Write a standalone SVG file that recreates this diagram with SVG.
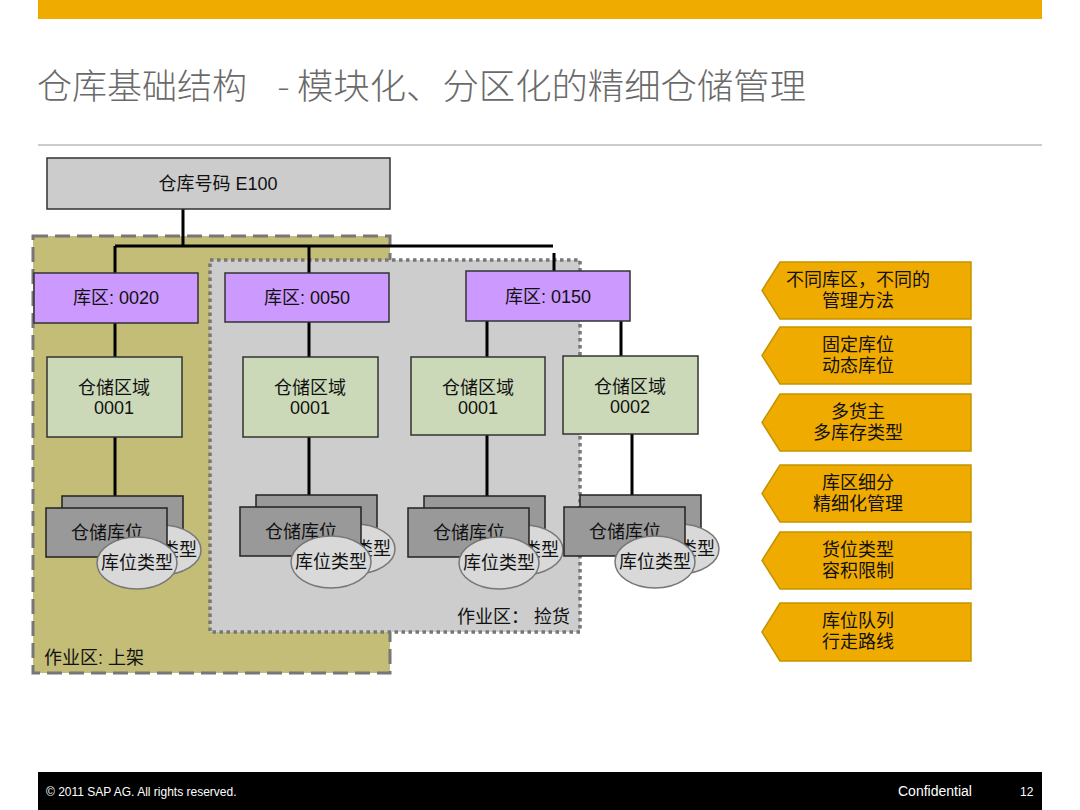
<svg xmlns="http://www.w3.org/2000/svg" width="1080" height="810" viewBox="0 0 1080 810">
<style>
  .t{font-family:"Liberation Sans","Noto Sans CJK SC",sans-serif;font-size:18px;fill:#111;text-anchor:middle}
  .tl{font-family:"Liberation Sans","Noto Sans CJK SC",sans-serif;font-size:18px;fill:#111}
  .title{font-family:"Noto Sans CJK SC","Liberation Sans",sans-serif;font-size:35px;font-weight:300;fill:#6a6a6a}
  .ft{font-family:"Liberation Sans",sans-serif;fill:#fff}
  .kq{fill:#CC99FF;stroke:#333;stroke-width:1.5}
  .qy{fill:#CCD9B9;stroke:#333;stroke-width:1.5}
  .kw{fill:#999999;stroke:#222;stroke-width:1.5}
  .el{fill:#D9D9D9;stroke:#777;stroke-width:1.5}
  .tag{fill:#F0AB00;stroke:#C49400;stroke-width:1.5}
  .con{stroke:#000;stroke-width:3;fill:none}
</style>
<defs>
  <g id="stack">
    <rect class="kw" x="16" y="-12" width="121" height="49"/>
    <ellipse class="el" cx="115" cy="42" rx="40" ry="25"/>
    <text class="t" x="115" y="48">库位类型</text>
    <rect class="kw" x="0" y="0" width="121" height="49"/>
    <text class="t" x="61" y="31">仓储库位</text>
    <ellipse class="el" cx="91" cy="55" rx="40" ry="26"/>
    <text class="t" x="91" y="61">库位类型</text>
  </g>
</defs>
<rect width="1080" height="810" fill="#fff"/>
<rect x="38" y="0" width="1004" height="19" fill="#F0AB00"/>
<g id="title">
  <text class="title" x="37" y="99" textLength="210" lengthAdjust="spacingAndGlyphs">仓库基础结构</text>
  <text class="title" x="278" y="99" textLength="11" lengthAdjust="spacingAndGlyphs">–</text>
  <text class="title" x="297" y="99" textLength="509" lengthAdjust="spacingAndGlyphs">模块化、分区化的精细仓储管理</text>
</g>
<line x1="38" y1="145" x2="1042" y2="145" stroke="#999" stroke-width="1"/>

<g id="zone-putaway">
  <rect x="33" y="236" width="357" height="437" fill="#C3BD78" stroke="#777" stroke-width="3" stroke-dasharray="15 7"/>
  <text class="tl" x="44" y="664">作业区: 上架</text>
</g>
<g id="zone-picking">
  <rect x="210" y="260" width="370" height="372" fill="#CDCDCD" stroke="#777" stroke-width="3.5" stroke-dasharray="3.5 3.5"/>
  <text class="tl" x="457" y="623">作业区： 捡货</text>
</g>

<g id="connectors" class="con">
  <path d="M183 209V246M115 246H553M115 246V273M309 246V273M554 253V271"/>
  <path d="M115 323V357M309 322V357M487 321V357M621 321V356"/>
  <path d="M115 437V496M309 437V496M487 435V496M632 434V495"/>
</g>

<g id="warehouse">
  <rect x="47" y="158" width="343" height="51" fill="#CCCCCC" stroke="#333" stroke-width="1.5"/>
  <text class="t" x="218" y="190">仓库号码 E100</text>
</g>
<g id="sa-0020"><rect class="kq" x="34" y="273" width="164" height="50"/><text class="t" x="116" y="304">库区: 0020</text></g>
<g id="sa-0050"><rect class="kq" x="225" y="273" width="164" height="49"/><text class="t" x="307" y="304">库区: 0050</text></g>
<g id="sa-0150"><rect class="kq" x="466" y="271" width="164" height="50"/><text class="t" x="548" y="303">库区: 0150</text></g>

<g id="ss-1"><rect class="qy" x="47" y="357" width="135" height="80"/><text class="t" x="114" y="394">仓储区域</text><text class="t" x="114" y="414">0001</text></g>
<g id="ss-2"><rect class="qy" x="243" y="357" width="135" height="80"/><text class="t" x="310" y="394">仓储区域</text><text class="t" x="310" y="414">0001</text></g>
<g id="ss-3"><rect class="qy" x="411" y="357" width="134" height="78"/><text class="t" x="478" y="394">仓储区域</text><text class="t" x="478" y="414">0001</text></g>
<g id="ss-4"><rect class="qy" x="563" y="356" width="135" height="78"/><text class="t" x="630" y="393">仓储区域</text><text class="t" x="630" y="413">0002</text></g>

<g id="bin-1"><use href="#stack" x="46" y="508"/></g>
<g id="bin-2"><use href="#stack" x="240" y="507"/></g>
<g id="bin-3"><use href="#stack" x="408" y="508"/></g>
<g id="bin-4"><use href="#stack" x="564" y="507"/></g>

<g id="tag-1"><path class="tag" d="M780 262H971V319H780L762 290.5Z"/><text class="t" x="858" y="286">不同库区，不同的</text><text class="t" x="858" y="307">管理方法</text></g>
<g id="tag-2"><path class="tag" d="M780 327H971V384H780L762 355.5Z"/><text class="t" x="858" y="351">固定库位</text><text class="t" x="858" y="372">动态库位</text></g>
<g id="tag-3"><path class="tag" d="M780 394H971V451H780L762 422.5Z"/><text class="t" x="858" y="418">多货主</text><text class="t" x="858" y="439">多库存类型</text></g>
<g id="tag-4"><path class="tag" d="M780 465H971V522H780L762 493.5Z"/><text class="t" x="858" y="489">库区细分</text><text class="t" x="858" y="510">精细化管理</text></g>
<g id="tag-5"><path class="tag" d="M780 532H971V589H780L762 560.5Z"/><text class="t" x="858" y="556">货位类型</text><text class="t" x="858" y="577">容积限制</text></g>
<g id="tag-6"><path class="tag" d="M780 603H971V661H780L762 632Z"/><text class="t" x="858" y="627">库位队列</text><text class="t" x="858" y="648">行走路线</text></g>

<g id="footer">
  <rect x="38" y="772" width="1004" height="38" fill="#000"/>
  <text class="ft" x="46" y="796" font-size="12">© 2011 SAP AG. All rights reserved.</text>
  <text class="ft" x="898" y="796" font-size="14">Confidential</text>
  <text class="ft" x="1020" y="796" font-size="12">12</text>
</g>
</svg>
